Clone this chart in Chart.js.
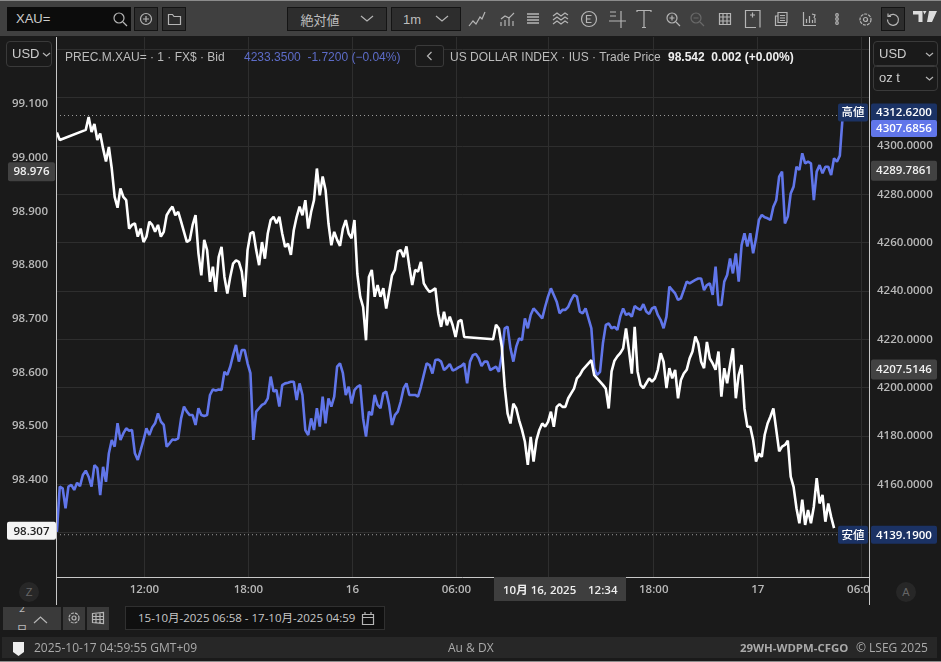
<!DOCTYPE html>
<html>
<head>
<meta charset="utf-8">
<title>XAU= / DX</title>
<script src="https://cdn.jsdelivr.net/npm/chart.js@4/dist/chart.umd.min.js"></script>
<style>
  html, body { margin: 0; padding: 0; background: #1a1a1a; overflow: hidden; }
  #wrap { position: relative; width: 941px; height: 662px; font-family: "Liberation Sans", sans-serif; font-size: 12px; color: #bbb; }
  #price-chart { position: absolute; left: 0; top: 0; }
  .abs { position: absolute; white-space: nowrap; }
  .toolbar { left: 0; top: 1px; width: 941px; height: 35px; background: #404040; }
  .edge { left: 0; width: 941px; height: 1px; background: #8c8c8c; }
  .btn { background: #2d2d2d; border: 1px solid #141414; box-sizing: border-box; }
  .drop { display: flex; align-items: center; justify-content: center; gap: 20px; color: #bdbdbd; font-size: 13px; }
  .select { border: 1px solid #3a3a3a; border-radius: 4px; box-sizing: border-box; color: #ccc; font-size: 13px; line-height: 22px; padding-left: 5px; }
  .legend { top: 50px; line-height: 14px; }
  .round { width: 20px; height: 20px; border-radius: 10px; background: #272727; color: #666; text-align: center; line-height: 20px; font-size: 11px; }
  .status { left: 2px; top: 637px; width: 935px; height: 21px; background: #272727; }
  .statustext { top: 637px; line-height: 21px; color: #aaa; font-family: "Open Sans", sans-serif; font-size: 12px; }
  svg { position: absolute; overflow: visible; fill: none; stroke: #b5b5b5; stroke-width: 1.2; }
</style>
</head>
<body>
<div id="wrap">
  <canvas id="price-chart" width="941" height="662"></canvas>

  <div class="abs edge" style="top:0"></div>
  <div class="abs edge" style="top:661px"></div>
  <div class="abs toolbar"></div>
  <div class="abs" style="left:7px;top:7px;width:124px;height:24px;background:#0c0c0c;color:#ccc;font-size:13px;line-height:24px;padding-left:9px;box-sizing:border-box;">XAU=</div>
  <svg style="left:113px;top:12px" width="14" height="14"><circle cx="6" cy="6" r="5"/><path d="M10 10l4 4"/></svg>
  <div class="abs btn" style="left:134px;top:7px;width:24px;height:24px"></div>
  <svg style="left:139px;top:12px" width="14" height="14"><circle cx="7" cy="7" r="5.5"/><path d="M7 4v6M4 7h6"/></svg>
  <div class="abs btn" style="left:162px;top:7px;width:24px;height:24px"></div>
  <svg style="left:168px;top:13px" width="13" height="12"><path d="M.5 1.5h4l1.5 2h6.5v8H.5z"/></svg>
  <div class="abs btn drop" style="left:287px;top:7px;width:100px;height:24px;font-family:'Noto Sans CJK JP'"><span>絶対値</span><svg style="position:static" width="14" height="6"><path d="M1 0l6 5 6-5"/></svg></div>
  <div class="abs btn drop" style="left:391px;top:7px;width:70px;height:24px;gap:14px"><span>1m</span><svg style="position:static" width="14" height="6"><path d="M1 0l6 5 6-5"/></svg></div>

  <svg style="left:469px;top:11px" width="16" height="16"><path d="M0 15l4-5 3 3 4-7 2 2 3-7"/></svg>
  <svg style="left:500px;top:12px" width="16" height="15"><path d="M1 14v-4M5 14V8M9 14V6M13 14V9M1 7l4-3 4 2 5-5"/></svg>
  <svg style="left:527px;top:13px" width="12" height="12"><path d="M0 1h12M0 4h12M0 7h12M0 10h12" stroke-width="1.6"/></svg>
  <svg style="left:553px;top:12px" width="16" height="14"><path d="M0 4l4-3 4 3 4-3 3 2M0 8l4-3 4 3 4-3 3 2M0 12l4-3 4 3 4-3 3 2"/></svg>
  <svg style="left:581px;top:11px" width="16" height="16"><circle cx="8" cy="8" r="7.5"/><path d="M10.5 4.500h-5v7h5M5.500 8h4"/></svg>
  <svg style="left:609px;top:10px" width="18" height="18"><path d="M1 2h6M1 6h6M0 11h17M12 1v17"/></svg>
  <svg style="left:637px;top:10px" width="15" height="18"><path d="M0 2V.5h14V2M7 .5V18M5 17.500h4"/></svg>
  <svg style="left:666px;top:12px" width="14" height="14"><circle cx="6" cy="6" r="5"/><path d="M10 10l4 4M3.500 6h5M6 3.500v5"/></svg>
  <svg style="left:690px;top:12px;opacity:.35" width="14" height="14"><circle cx="6" cy="6" r="5"/><path d="M10 10l4 4M3.500 6h5"/></svg>
  <svg style="left:719px;top:13px" width="12" height="12"><path d="M.5.5h11v11H.5zM.5 4h11M.5 8h11M4 .5v11M8 .5v11"/></svg>
  <svg style="left:745px;top:10px" width="16" height="18"><path d="M11 17.500H.5V.5H15v17M4 17.500h1M7 17.500h1M5 5h5M7.500 2.500v5"/></svg>
  <svg style="left:775px;top:12px" width="13" height="14"><path d="M3 .5h9v10H3zM3 4H.5v9.500h11v-3M5 3.500h5M5 6h5M5 8.500h5"/></svg>
  <svg style="left:803px;top:12px" width="13" height="14"><path d="M.5 0v13.500H13M3.500 11V7M6.500 11V4M9.500 11V8M12 11V6M9 2l3 1-1 3"/></svg>
  <svg style="left:835px;top:13px" width="4" height="12" stroke-width="1"><circle cx="2" cy="2" r="1.300"/><circle cx="2" cy="6" r="1.300"/><circle cx="2" cy="10" r="1.300"/></svg>
  <svg style="left:859px;top:13px" width="13" height="13"><circle cx="6.500" cy="6.500" r="5.500" stroke-dasharray="3 1"/><circle cx="6.500" cy="6.500" r="2"/></svg>
  <div class="abs btn" style="left:881px;top:7px;width:24px;height:24px"></div>
  <svg style="left:887px;top:13px" width="12" height="12"><path d="M2 3a5.500 5.500 0 1 1-1.500 3.500M1 .5V3.500h3"/></svg>
  <svg style="left:913px;top:11px;fill:#ddd;stroke:none" width="24" height="13"><path d="M0 0h9.500v11H5.500V3.500H0zM10 0h3.500l-2 3.500zM16 0h8l-5 11h-5z"/></svg>

  <div class="abs select" style="left:6px;top:41px;width:46px;height:26px;line-height:23px;">USD<svg style="left:36px;top:11px" width="7" height="4"><path d="M0 0l3.500 3L7 0"/></svg></div>
  <div class="abs select" style="left:873px;top:41px;width:65px;height:26px;line-height:23px;">USD<svg style="left:52px;top:11px" width="7" height="4"><path d="M0 0l3.500 3L7 0"/></svg></div>
  <div class="abs select" style="left:873px;top:65px;width:65px;height:26px;line-height:24px;">oz t<svg style="left:52px;top:11px" width="7" height="4"><path d="M0 0l3.500 3L7 0"/></svg></div>

  <div class="abs legend" style="left:65px;color:#bcbcbc">PREC.M.XAU= · 1 · FX$ · Bid</div>
  <div class="abs legend" style="left:244px;color:#5d6cc8">4233.3500 &nbsp;-1.7200 (−0.04%)</div>
  <div class="abs btn" style="left:415px;top:45px;width:29px;height:22px;background:#1a1a1a;border-color:#3a3a3a;border-radius:3px"></div>
  <svg style="left:427px;top:52px" width="5" height="8"><path d="M4.500 0L.5 4l4 4"/></svg>
  <div class="abs legend" style="left:450px;color:#bcbcbc">US DOLLAR INDEX · IUS · Trade Price</div>
  <div class="abs legend" style="left:668px;color:#eee;font-weight:bold;">98.542 &nbsp;0.002 (+0.00%)</div>

  <div class="abs round" style="left:19px;top:582px">Z</div>
  <div class="abs round" style="left:896px;top:582px">A</div>

  <div class="abs" style="left:3px;top:607px;width:58px;height:23px;background:#3a3a3a"></div>
  <svg style="left:34px;top:616px" width="13" height="7"><path d="M0 7l6.500-6L13 7"/></svg>
  <div class="abs" style="left:3px;top:607px;width:58px;height:23px;overflow:hidden;font-family:'Noto Sans CJK JP';font-size:11px;color:#bbb;line-height:22px;white-space:normal"><div style="margin:-11px 0 0 13px;width:12px;text-align:center">2 日</div></div>
  <div class="abs" style="left:63px;top:607px;width:22px;height:23px;background:#3a3a3a"></div>
  <svg style="left:68px;top:612px" width="12" height="12"><circle cx="6" cy="6" r="5" stroke-dasharray="3 1"/><circle cx="6" cy="6" r="2"/></svg>
  <div class="abs" style="left:87px;top:607px;width:22px;height:23px;background:#3a3a3a"></div>
  <svg style="left:92px;top:612px" width="12" height="12"><path d="M.5 1.500l11-1v11l-11-1zM.5 4.500h11M.5 7.500h11M4 1v10M8 1v10"/></svg>
  <div class="abs" style="left:125px;top:606px;width:260px;height:24px;background:#101010;border:1px solid #303030;box-sizing:border-box;line-height:22px;padding-left:12px;color:#c8c8c8;font-family:'Open Sans','Noto Sans CJK JP';font-size:11.5px;">15-10月-2025 06:58 - 17-10月-2025 04:59</div>
  <svg style="left:362px;top:612px" width="12" height="13"><path d="M.5 2.500h11v10H.5zM.5 5.500h11M3 0v2.500M9 0v2.500"/></svg>

  <div class="abs status"></div>
  <svg style="left:13px;top:642px;fill:#eee;stroke:none" width="11" height="14"><path d="M0 0h11v10l-5.500 4L0 10z"/></svg>
  <div class="abs statustext" style="left:34px">2025-10-17 04:59:55 GMT+09</div>
  <div class="abs statustext" style="left:448px">Au &amp; DX</div>
  <div class="abs statustext" style="left:740px;font-weight:bold;font-size:11.4px">29WH-WDPM-CFGO</div>
  <div class="abs statustext" style="left:856px">© LSEG 2025</div>
</div>

<script>
// sampled every 10 session minutes, null = no quote (market closed)
const stepMinutes = 10;

const dollarIndex = [
  99.047, 99.033, null, null, null, null, null, null, null, null,
  99.052, 99.076, 99.048, 99.063, 99.033, 99.045, 99.017, 98.993, 99.020, 98.980,
  98.927, 98.907, 98.943, 98.927, 98.921, 98.868, 98.875, 98.878, 98.853, 98.868,
  98.843, 98.853, 98.881, 98.875, 98.862, 98.875, 98.853, 98.862, 98.893, 98.902,
  98.909, 98.893, 98.899, 98.881, 98.862, 98.843, 98.847, 98.875, 98.893, 98.822,
  98.781, 98.847, 98.828, 98.769, 98.797, 98.750, 98.815, 98.834, 98.778, 98.747,
  98.778, 98.803, 98.809, 98.806, 98.788, 98.741, 98.828, 98.859, 98.862, 98.828,
  98.800, 98.843, 98.812, 98.859, 98.884, 98.890, 98.878, 98.890, 98.859, 98.834,
  98.840, 98.819, 98.865, 98.890, 98.909, 98.893, 98.921, 98.868, 98.899, 98.921,
  98.980, 98.930, 98.965, 98.940, 98.878, 98.837, 98.862, 98.847, 98.836, 98.868,
  98.884, 98.859, 98.850, 98.884, 98.784, 98.741, 98.722, 98.660, 98.778, 98.791,
  98.741, 98.763, 98.741, 98.757, 98.719, 98.750, 98.781, 98.791, 98.825, 98.828,
  98.815, 98.835, 98.797, 98.763, 98.791, 98.788, 98.806, 98.766, 98.757, 98.750,
  98.753, 98.757, 98.710, 98.685, 98.713, 98.688, 98.704, 98.688, 98.666, 98.695,
  98.698, 98.666, null, null, null, null, null, null, null, null,
  null, 98.662, 98.689, 98.682, 98.648, 98.574, 98.524, 98.505, 98.542, 98.533,
  98.511, 98.493, 98.471, 98.428, 98.480, 98.434, 98.474, 98.493, 98.505, 98.499,
  98.508, 98.527, 98.499, 98.536, 98.541, 98.536, 98.536, 98.552, 98.561, 98.570,
  98.589, 98.595, 98.605, 98.611, 98.617, 98.623, 98.595, 98.589, 98.583, 98.577,
  98.570, 98.533, 98.602, 98.622, 98.630, 98.636, 98.645, 98.682, 98.642, 98.598,
  98.685, 98.602, 98.577, 98.571, 98.580, 98.589, 98.583, 98.589, 98.605, 98.636,
  98.620, 98.571, 98.608, 98.589, 98.605, 98.552, 98.586, 98.598, 98.605, 98.626,
  98.639, 98.667, 98.654, 98.620, 98.608, 98.657, 98.626, 98.617, 98.605, 98.639,
  98.555, 98.608, 98.580, 98.614, 98.645, 98.552, 98.595, 98.614, 98.533, 98.499,
  98.499, 98.474, 98.434, 98.449, 98.443, 98.484, 98.505, 98.518, 98.533, 98.493,
  98.453, 98.462, 98.465, 98.473, 98.406, 98.387, 98.347, 98.319, 98.363, 98.316,
  98.344, 98.319, 98.350, 98.403, 98.356, 98.372, 98.322, 98.356, 98.331, 98.310
];

const goldBid = [
  4140.4, 4159.1, 4158.4, 4150.1, 4159.1, 4159.8, 4157.7, 4160.7, 4159.3, 4163.9,
  4165.7, 4163.2, 4159.1, 4168.0, 4166.7, 4155.6, 4167.3, 4161.1, 4172.9, 4178.4,
  4175.6, 4185.3, 4178.4, 4181.1, 4183.2, 4182.2, 4182.5, 4172.9, 4170.1, 4174.2,
  4178.4, 4183.2, 4180.4, 4183.6, 4185.3, 4189.4, 4186.0, 4184.6, 4175.6, 4177.0,
  4178.6, 4178.4, 4179.1, 4187.3, 4192.2, 4190.1, 4188.7, 4188.7, 4184.6, 4191.5,
  4188.7, 4188.3, 4188.7, 4197.0, 4199.3, 4198.8, 4199.3, 4199.1, 4206.6, 4205.3,
  4208.7, 4213.5, 4217.7, 4210.8, 4215.6, 4215.6, 4210.1, 4206.0, 4178.4, 4190.1,
  4191.5, 4192.9, 4193.5, 4195.6, 4204.6, 4198.4, 4199.1, 4192.2, 4201.1, 4201.8,
  4202.1, 4202.5, 4202.5, 4194.9, 4201.8, 4197.0, 4182.5, 4180.4, 4187.3, 4182.5,
  4191.5, 4183.9, 4196.3, 4185.3, 4195.6, 4192.2, 4196.3, 4208.7, 4210.1, 4206.0,
  4197.0, 4200.4, 4193.5, 4199.0, 4200.4, 4201.1, 4187.3, 4179.8, 4190.1, 4188.7,
  4197.0, 4192.9, 4191.5, 4197.7, 4198.4, 4192.9, 4184.6, 4188.7, 4190.1, 4194.2,
  4199.7, 4201.8, 4197.0, 4197.0, 4197.0, 4196.3, 4200.4, 4205.3, 4210.1, 4209.4,
  4205.9, 4211.5, 4211.7, 4210.8, 4207.3, 4208.4, 4209.8, 4207.1, 4207.6, 4208.4,
  4209.0, 4210.1, 4201.8, 4210.8, 4213.5, 4214.0, 4212.2, 4209.0, 4210.8, 4210.8,
  4207.3, 4208.0, 4208.7, 4206.6, 4213.5, 4224.6, 4225.3, 4216.3, 4210.8, 4217.0,
  4220.4, 4219.7, 4228.7, 4224.6, 4230.1, 4232.8, 4231.5, 4230.1, 4228.7, 4233.5,
  4237.7, 4241.1, 4238.4, 4235.6, 4230.8, 4232.2, 4232.2, 4233.5, 4236.3, 4238.4,
  4237.7, 4231.5, 4230.8, 4232.8, 4228.7, 4224.6, 4208.0, 4205.3, 4206.6, 4218.4,
  4226.0, 4226.6, 4224.6, 4225.2, 4223.9, 4229.4, 4232.8, 4230.1, 4230.8, 4229.4,
  4233.8, 4232.8, 4232.2, 4234.6, 4231.5, 4230.5, 4232.8, 4233.5, 4230.1, 4228.0,
  4224.6, 4229.4, 4241.8, 4240.4, 4239.0, 4236.3, 4237.0, 4240.4, 4243.9, 4243.2,
  4243.9, 4244.6, 4245.2, 4245.2, 4240.4, 4242.5, 4243.2, 4238.4, 4250.1, 4234.2,
  4234.2, 4243.9, 4246.6, 4253.5, 4247.3, 4255.6, 4243.9, 4259.0, 4263.9, 4258.4,
  4263.9, 4255.6, 4261.8, 4269.4, 4271.5, 4270.5, 4270.1, 4269.4, 4274.9, 4277.6,
  4287.3, 4289.4, 4268.0, 4270.8, 4280.4, 4283.2, 4291.4, 4290.1, 4297.0, 4292.8,
  4293.5, 4292.8, 4277.6, 4289.4, 4292.1, 4288.7, 4291.4, 4291.4, 4288.0, 4294.9,
  4293.5, 4296.0, 4312.6
];

const leftTicks = [99.1, 99.0, 98.9, 98.8, 98.7, 98.6, 98.5, 98.4];
const rightTicks = [4340, 4320, 4300, 4280, 4260, 4240, 4220, 4200, 4180, 4160, 4140];
const rightLabelled = [4300, 4280, 4260, 4240, 4220, 4200, 4180, 4160];
const timeTicks = [303, 663, 1023, 1383, 1703, 2066, 2426, 2786];
const timeLabels = ['12:00', '18:00', '16', '06:00', '12:00', '18:00', '17', '06:00'];

const sessionHigh = 4312.62;
const sessionLow = 4139.19;
const lastGold = 4307.6856;
const crossDollar = 98.976;
const crossGold = [4289.7861, 4207.5146];
const lowDollar = 98.307;

const uiFont = '"Open Sans", "Noto Sans CJK JP", sans-serif';
const blue = '#6176ea';

function toPoints(values) {
  return values.map((v, i) => ({ x: i * stepMinutes, y: v }));
}

function badge(ctx, x, y, w, h, bg, color, text, weight) {
  ctx.save();
  ctx.fillStyle = bg;
  ctx.beginPath();
  ctx.roundRect(x, y - h / 2, w, h, 2);
  ctx.fill();
  ctx.fillStyle = color;
  ctx.font = `${weight || 600} 11.5px ${uiFont}`;
  ctx.textAlign = 'center';
  ctx.textBaseline = 'middle';
  ctx.fillText(text, x + w / 2, y + 0.5);
  ctx.restore();
}

const overlayPlugin = {
  id: 'overlay',
  afterDraw(chart) {
    const { ctx, chartArea, scales } = chart;
    const { left, right, top, bottom } = chartArea;

    // hides the part of the last time label past the frame
    ctx.fillStyle = '#1a1a1a';
    ctx.fillRect(right + 1, bottom + 1, 71, 28);

    ctx.strokeStyle = '#c8c8c8';
    ctx.lineWidth = 1;
    ctx.beginPath();
    ctx.moveTo(left + 0.5, top);
    ctx.lineTo(left + 0.5, 605);
    ctx.moveTo(right + 0.5, top);
    ctx.lineTo(right + 0.5, 605);
    ctx.moveTo(left, bottom + 0.5);
    ctx.lineTo(right, bottom + 0.5);
    ctx.stroke();

    const yR = scales.yRight;
    const yL = scales.yLeft;
    const navy = '#1b3264';
    badge(ctx, 838, yR.getPixelForValue(sessionHigh) - 3, 30, 18, navy, '#fff', '高値', 500);
    badge(ctx, 871, yR.getPixelForValue(sessionHigh) - 3, 66, 18, navy, '#fff', sessionHigh.toFixed(4));
    badge(ctx, 871, yR.getPixelForValue(lastGold) + 1, 66, 17, blue, '#fff', lastGold.toFixed(4));
    badge(ctx, 838, yR.getPixelForValue(sessionLow), 30, 18, navy, '#fff', '安値', 500);
    badge(ctx, 871, yR.getPixelForValue(sessionLow), 66, 18, navy, '#fff', sessionLow.toFixed(4));
    crossGold.forEach((v) => {
      badge(ctx, 871, yR.getPixelForValue(v), 66, 20, '#424242', '#f0f0f0', v.toFixed(4));
    });
    badge(ctx, 8, yL.getPixelForValue(crossDollar) + 1, 47, 19, '#424242', '#f0f0f0', crossDollar.toFixed(3));
    badge(ctx, 7, yL.getPixelForValue(lowDollar) + 1, 49, 18, '#f4f4f4', '#222', lowDollar.toFixed(3));

    ctx.fillStyle = '#3e3e3e';
    ctx.fillRect(494, bottom, 132, 24);
    ctx.fillStyle = '#eee';
    ctx.font = `600 11.5px ${uiFont}`;
    ctx.textAlign = 'left';
    ctx.textBaseline = 'middle';
    ctx.fillText('10月 16, 2025', 503, bottom + 14);
    ctx.fillText('12:34', 588, bottom + 14);
  }
};

function renderChart() {
  const ctx = document.getElementById('price-chart').getContext('2d');
  const lineStyle = { pointRadius: 0, tension: 0, spanGaps: true, borderJoinStyle: 'bevel', borderWidth: 2.6 };
  const dotted = { pointRadius: 0, borderColor: '#9a9a9a', borderWidth: 1, borderDash: [1, 3], yAxisID: 'yRight' };
  const tickFont = { family: uiFont, size: 11.5, weight: '600' };

  new Chart(ctx, {
    type: 'line',
    data: {
      datasets: [
        { ...lineStyle, label: 'US DOLLAR INDEX', data: toPoints(dollarIndex), borderColor: '#ffffff', yAxisID: 'yLeft' },
        { ...lineStyle, label: 'PREC.M.XAU=', data: toPoints(goldBid), borderColor: blue, yAxisID: 'yRight' },
        { ...dotted, label: '高値', data: [{ x: -3, y: sessionHigh }, { x: 2710, y: sessionHigh }] },
        { ...dotted, label: '安値', data: [{ x: -3, y: sessionLow }, { x: 2710, y: sessionLow }] }
      ]
    },
    options: {
      responsive: false,
      animation: false,
      events: [],
      layout: { padding: { top: 37 } },
      plugins: { legend: { display: false }, tooltip: { enabled: false } },
      scales: {
        x: {
          type: 'linear',
          min: -3,
          max: 2811,
          grid: { color: '#2e2e2e', drawTicks: false },
          border: { display: false },
          afterBuildTicks: (axis) => { axis.ticks = timeTicks.map((value) => ({ value })); },
          afterFit: (axis) => { axis.height = 85; },
          ticks: {
            autoSkip: false,
            maxRotation: 0,
            padding: 6,
            color: '#b8b8b8',
            font: tickFont,
            callback: (value) => timeLabels[timeTicks.indexOf(value)]
          }
        },
        yLeft: {
          position: 'left',
          min: 98.219,
          max: 99.225,
          grid: { display: false },
          border: { display: false },
          afterBuildTicks: (axis) => { axis.ticks = leftTicks.map((value) => ({ value })); },
          afterFit: (axis) => { axis.width = 56; },
          ticks: {
            padding: 0,
            color: '#b8b8b8',
            font: tickFont,
            callback: (value) => value.toFixed(3)
          }
        },
        yRight: {
          position: 'right',
          min: 4121.7,
          max: 4345.1,
          grid: { color: '#2e2e2e', drawTicks: false },
          border: { display: false },
          afterBuildTicks: (axis) => { axis.ticks = rightTicks.map((value) => ({ value })); },
          afterFit: (axis) => { axis.width = 72; },
          ticks: {
            autoSkip: false,
            padding: 8,
            color: '#b8b8b8',
            font: tickFont,
            callback: (value) => (rightLabelled.includes(value) ? value.toFixed(4) : '')
          }
        }
      }
    },
    plugins: [overlayPlugin]
  });
}

renderChart();
</script>
</body>
</html>
